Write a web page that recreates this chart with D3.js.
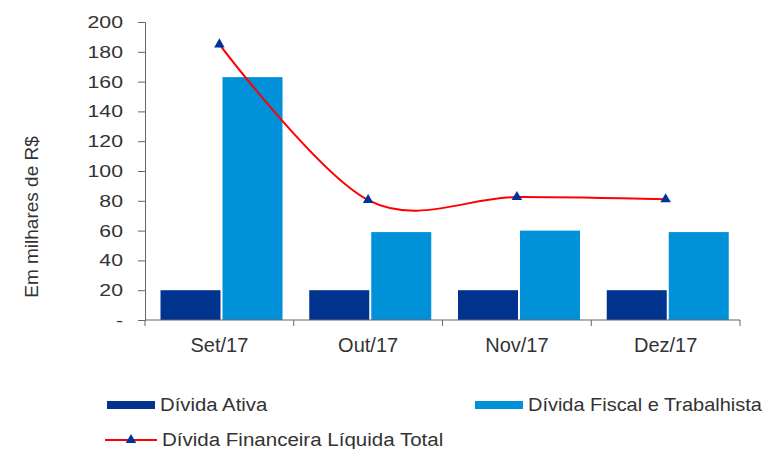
<!DOCTYPE html>
<html>
<head>
<meta charset="utf-8">
<script src="https://cdn.jsdelivr.net/npm/d3@7"></script>
<style>
  body { margin: 0; background: #fff; }
  text { font-family: "Liberation Sans", Arial, sans-serif; fill: #333; }
</style>
</head>
<body>
<div id="chart"></div>
<script>
// Dívida - barras agrupadas + linha suavizada

const months = ["Set/17", "Out/17", "Nov/17", "Dez/17"];
const series = ["Dívida Ativa", "Dívida Fiscal e Trabalhista"];
const dividaAtiva = [20, 20, 20, 20];
const dividaFiscal = [163, 59, 60, 59];
const dividaFinanceira = [185, 80.5, 82.5, 81];
const yTicks = [0, 20, 40, 60, 80, 100, 120, 140, 160, 180, 200];
const lineLabel = "Dívida Financeira Líquida Total";

const width = 772,
    height = 449,
    margin = ({ top: 22, right: 32, bottom: 129, left: 145 });

const colors = { ativa: "#00338d", fiscal: "#0091d9", line: "#ff0000", marker: "#00339a" };

const svg = d3.select("#chart")
    .append("svg")
    .attr("width", width)
    .attr("height", height)
    .attr("viewBox", [0, 0, width, height]);

const x = d3.scaleBand()
    .domain(months)
    .range([margin.left, width - margin.right]);

// posição das duas barras dentro de cada mês
const xInner = d3.scaleBand()
    .domain(series)
    .range([15.5, 137.5])
    .paddingInner(2 / 62);

const y = d3.scaleLinear()
    .domain([0, 200])
    .range([height - margin.bottom, margin.top]);

const rows = months.map((m, i) => ({
    month: m,
    values: [
        { key: series[0], value: dividaAtiva[i], color: colors.ativa },
        { key: series[1], value: dividaFiscal[i], color: colors.fiscal }
    ]
}));

// barras
svg.append("g")
    .selectAll("g")
    .data(rows)
    .join("g")
    .attr("transform", d => `translate(${x(d.month)},0)`)
    .selectAll("rect")
    .data(d => d.values)
    .join("rect")
    .attr("x", d => xInner(d.key))
    .attr("width", xInner.bandwidth())
    .attr("y", d => y(d.value))
    .attr("height", d => y(0) - y(d.value))
    .attr("fill", d => d.color);

// eixo y
const yAxis = svg.append("g")
    .attr("transform", `translate(${margin.left},0)`)
    .call(d3.axisLeft(y)
        .tickValues(yTicks)
        .tickSize(7)
        .tickFormat(d => d === 0 ? "-" : d));

yAxis.select(".domain").attr("stroke", "#666");
yAxis.selectAll(".tick line").attr("stroke", "#666");
yAxis.selectAll(".tick text")
    .attr("x", null)
    .attr("transform", "translate(-22,0) scale(1.25,1)")
    .attr("font-size", 17)
    .attr("fill", "#333");

// eixo x (ticks nas divisões entre meses)
const xAxis = svg.append("g");
const bounds = months.map(m => x(m)).concat([x(months[months.length - 1]) + x.bandwidth()]);

xAxis.append("line")
    .attr("x1", x.range()[0])
    .attr("x2", x.range()[1])
    .attr("y1", y(0))
    .attr("y2", y(0))
    .attr("stroke", "#666");

xAxis.selectAll(".bound")
    .data(bounds)
    .join("line")
    .attr("class", "bound")
    .attr("x1", d => d)
    .attr("x2", d => d)
    .attr("y1", y(0))
    .attr("y2", y(0) + 6)
    .attr("stroke", "#666");

xAxis.selectAll("text")
    .data(months)
    .join("text")
    .attr("x", d => x(d) + x.bandwidth() / 2)
    .attr("y", y(0) + 32)
    .attr("text-anchor", "middle")
    .attr("font-size", 20)
    .text(d => d);

// título do eixo y
svg.append("text")
    .attr("transform", `translate(38,217) rotate(-90)`)
    .attr("text-anchor", "middle")
    .attr("font-size", 19)
    .text("Em milhares de R$");

// linha suavizada
const cx = d => x(d.month) + x.bandwidth() / 2;
const lineData = months.map((m, i) => ({ month: m, value: dividaFinanceira[i] }));

svg.append("path")
    .datum(lineData)
    .attr("fill", "none")
    .attr("stroke", colors.line)
    .attr("stroke-width", 2)
    .attr("d", d3.line()
        .x(cx)
        .y(d => y(d.value))
        .curve(d3.curveCardinal.tension(0)));

const tri = d3.symbol().type(d3.symbolTriangle).size(48);

svg.append("g")
    .selectAll("path")
    .data(lineData)
    .join("path")
    .attr("transform", d => `translate(${cx(d)},${y(d.value)})`)
    .attr("d", tri)
    .attr("fill", colors.marker);

// legenda
const legend = svg.append("g");

const items = [
    { label: series[0], color: colors.ativa, x: 107, y: 405, type: "rect", w: 48, sx: 1.07 },
    { label: series[1], color: colors.fiscal, x: 475, y: 405, type: "rect", w: 48, sx: 1.05 },
    { label: lineLabel, color: colors.line, x: 105, y: 440, type: "line", w: 52, sx: 1.08 }
];

items.forEach(it => {
    if (it.type === "rect") {
        legend.append("rect")
            .attr("x", it.x)
            .attr("y", it.y - 4)
            .attr("width", it.w)
            .attr("height", 8)
            .attr("fill", it.color);
    } else {
        legend.append("line")
            .attr("x1", it.x)
            .attr("x2", it.x + it.w)
            .attr("y1", it.y)
            .attr("y2", it.y)
            .attr("stroke", it.color)
            .attr("stroke-width", 2);
        legend.append("path")
            .attr("transform", `translate(${it.x + it.w / 2},${it.y})`)
            .attr("d", tri)
            .attr("fill", colors.marker);
    }
    legend.append("text")
        .attr("transform", `translate(${it.x + it.w + 5},${it.y + 6}) scale(${it.sx},1)`)
        .attr("font-size", 19)
        .text(it.label);
});
</script>
</body>
</html>
